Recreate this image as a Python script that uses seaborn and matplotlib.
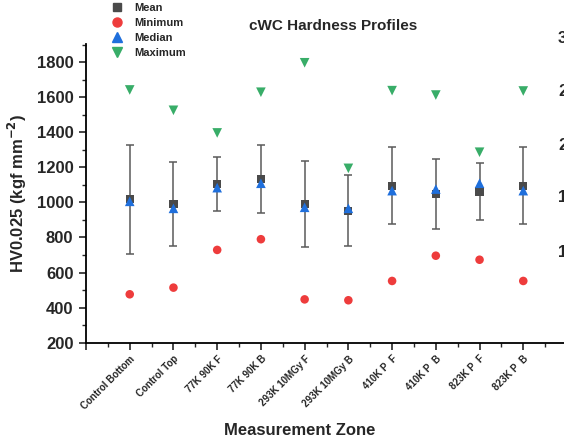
import matplotlib
matplotlib.use("Agg")
import matplotlib.pyplot as plt
import seaborn as sns
import pandas as pd
import numpy as np
from matplotlib.ticker import MultipleLocator
from matplotlib.lines import Line2D

categories = ["Control Bottom", "Control Top", "77K 90K F", "77K 90K B",
              "293K 10MGy F", "293K 10MGy B", "410K P  F", "410K P  B",
              "823K P  F", "823K P  B"]
mean_vals = [1017, 990, 1105, 1135, 991, 953, 1095, 1048, 1062, 1095]
sd_vals = [312, 240, 152, 195, 245, 203, 220, 199, 160, 220]
min_vals = [476, 514, 729, 790, 447, 442, 552, 696, 673, 552]
median_vals = [1006, 966, 1084, 1109, 972, 966, 1067, 1076, 1109, 1067]
max_vals = [1641, 1525, 1396, 1628, 1796, 1194, 1637, 1612, 1286, 1635]
right_labels = ["3.0", "2.5", "2.0", "1.5", "1.0"]

sns.set_theme(style="ticks")
plt.rcParams['font.family'] = ['Liberation Sans', 'DejaVu Sans']
plt.rcParams['font.weight'] = 'bold'
plt.rcParams['mathtext.default'] = 'bf'

pos = np.arange(1, len(categories) + 1)
df = pd.DataFrame({"pos": pos, "cat": categories, "mean": mean_vals, "sd": sd_vals,
                   "min": min_vals, "median": median_vals, "max": max_vals})

fig = plt.figure(figsize=(5.64, 4.40), dpi=100)
ax = fig.add_axes([86 / 564, 1 - 342.7 / 440, 481 / 564, (342.7 - 44) / 440])

c_mean = "#4a4a4a"
c_min = "#ee3c3c"
c_med = "#1f6fdc"
c_max = "#38ad68"

ax.errorbar(df["pos"], df["mean"], yerr=df["sd"], fmt="none", ecolor="#5a5a5a",
            elinewidth=1.1, capsize=2.6, capthick=1.1, zorder=2)
sns.scatterplot(data=df, x="pos", y="mean", marker="s", s=34, color=c_mean,
                edgecolor="none", ax=ax, zorder=3)
sns.scatterplot(data=df, x="pos", y="min", marker="o", s=38, color=c_min,
                edgecolor="none", ax=ax, zorder=3)
sns.scatterplot(data=df, x="pos", y="median", marker="^", s=48, color=c_med,
                edgecolor="none", ax=ax, zorder=4)
sns.scatterplot(data=df, x="pos", y="max", marker="v", s=48, color=c_max,
                edgecolor="none", ax=ax, zorder=3)

ax.set_xlim(0, 11)
ax.set_ylim(200, 1903)
ax.xaxis.set_minor_locator(MultipleLocator(0.5))
ax.yaxis.set_major_locator(MultipleLocator(200))
ax.yaxis.set_minor_locator(MultipleLocator(100))
ax.set_xticks(range(0, 12))
ax.set_xticklabels([""] + categories + [""], rotation=45, ha="right",
                   rotation_mode="anchor", fontsize=7, fontweight="bold")
ax.tick_params(axis="x", which="major", length=5, width=1.2, pad=3)
ax.tick_params(axis="both", which="minor", length=3, width=1.0)
ax.tick_params(axis="y", which="major", length=5, width=1.2, labelsize=12, pad=4)
for t in ax.get_yticklabels():
    t.set_fontweight("bold")

for s in ["top", "right"]:
    ax.spines[s].set_visible(False)
for s in ["left", "bottom"]:
    ax.spines[s].set_linewidth(1.3)
    ax.spines[s].set_color("black")

ax.set_xlabel("Measurement Zone", fontsize=12, fontweight="bold")
ax.xaxis.set_label_coords((300 - 86) / 481, -(423 - 342.7) / (342.7 - 44))
ax.set_ylabel("HV0.025 (kgf mm$^{-2}$)", fontsize=12, fontweight="bold")
ax.yaxis.set_label_coords(-(86 - 29) / 481, 0.5)
fig.text(333 / 564, 1 - 26 / 440, "cWC Hardness Profiles", ha="center", va="center",
         fontsize=11, fontweight="bold")

handles = [
    Line2D([], [], linestyle="none", marker="s", color=c_mean, markersize=5.5, label="Mean"),
    Line2D([], [], linestyle="none", marker="o", color=c_min, markersize=6.5, label="Minimum"),
    Line2D([], [], linestyle="none", marker="^", color=c_med, markersize=6.5, label="Median"),
    Line2D([], [], linestyle="none", marker="v", color=c_max, markersize=6.5, label="Maximum"),
]
fig.legend(handles=handles, loc="upper left", bbox_to_anchor=(110 / 564, 1 - 3 / 440),
           frameon=False, prop={"size": 8, "weight": "bold"}, handletextpad=1.0,
           labelspacing=0.45, handlelength=1.2, borderaxespad=0.0, borderpad=0.0)

for lbl, yp in zip(right_labels, [38, 92, 145, 198, 252]):
    fig.text(558 / 564, 1 - yp / 440, lbl, ha="left", va="center",
             fontsize=12, fontweight="bold")

fig.savefig("out.png", dpi=100)
